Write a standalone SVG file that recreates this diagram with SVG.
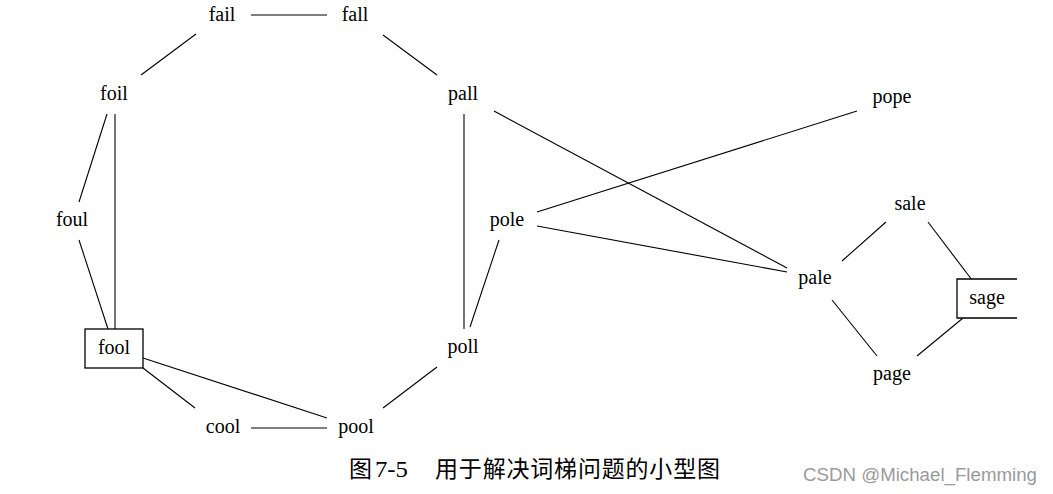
<svg xmlns="http://www.w3.org/2000/svg" width="1053" height="494" viewBox="0 0 1053 494">
<style>
.lbl{font-family:"Liberation Serif","Times New Roman",serif;font-size:20px;fill:#000;text-anchor:middle}
.box{fill:#fff;stroke:#000;stroke-width:1.3}
.edge{stroke:#000;stroke-width:1.1;fill:none}
.cap{font-family:"Liberation Serif","Noto Sans CJK SC",serif;font-size:23px;fill:#000}
.wm{font-family:"Liberation Sans","Noto Sans",sans-serif;font-size:18px;fill:#9a9a9a}
</style>
<rect width="1053" height="494" fill="#fff"/>
<g id="connectors">
<line class="edge" x1="251" y1="15" x2="327" y2="15"/>
<line class="edge" x1="196" y1="34" x2="141" y2="75"/>
<line class="edge" x1="383" y1="35" x2="437" y2="75"/>
<line class="edge" x1="107" y1="114" x2="79" y2="202"/>
<line class="edge" x1="115" y1="114" x2="115" y2="329"/>
<line class="edge" x1="79" y1="240" x2="108" y2="329"/>
<line class="edge" x1="464" y1="114" x2="464" y2="329"/>
<line class="edge" x1="494" y1="111" x2="787" y2="268"/>
<line class="edge" x1="537" y1="212" x2="857" y2="111"/>
<line class="edge" x1="537" y1="226" x2="787" y2="272"/>
<line class="edge" x1="499" y1="240" x2="470" y2="327"/>
<line class="edge" x1="842" y1="261" x2="886" y2="222"/>
<line class="edge" x1="928" y1="222" x2="972" y2="280"/>
<line class="edge" x1="832" y1="300" x2="877" y2="356"/>
<line class="edge" x1="917" y1="356" x2="963" y2="318"/>
<line class="edge" x1="143" y1="368" x2="195" y2="408"/>
<line class="edge" x1="143" y1="358" x2="327" y2="418"/>
<line class="edge" x1="251" y1="428" x2="327" y2="428" stroke="#888"/>
<line class="edge" x1="437" y1="367" x2="383" y2="408"/>
</g>
<g id="fail"><text class="lbl" x="222" y="21">fail</text></g>
<g id="fall"><text class="lbl" x="355" y="21">fall</text></g>
<g id="foil"><text class="lbl" x="114" y="100">foil</text></g>
<g id="pall"><text class="lbl" x="463" y="100">pall</text></g>
<g id="foul"><text class="lbl" x="72" y="226">foul</text></g>
<g id="pole"><text class="lbl" x="507" y="226">pole</text></g>
<g id="pope"><text class="lbl" x="892" y="103">pope</text></g>
<g id="sale"><text class="lbl" x="910" y="210">sale</text></g>
<g id="pale"><text class="lbl" x="815" y="284">pale</text></g>
<g id="sage"><path class="box" d="M1017,279 H957 V318 H1017"/><text class="lbl" x="987" y="304">sage</text></g>
<g id="page"><text class="lbl" x="892" y="380">page</text></g>
<g id="fool"><rect class="box" x="85" y="329" width="58" height="39"/><text class="lbl" x="114" y="354">fool</text></g>
<g id="poll"><text class="lbl" x="463" y="353">poll</text></g>
<g id="cool"><text class="lbl" x="223" y="433">cool</text></g>
<g id="pool"><text class="lbl" x="356" y="433">pool</text></g>
<g id="caption"><text class="cap" y="477"><tspan x="349">图</tspan><tspan x="375" textLength="33" lengthAdjust="spacingAndGlyphs">7-5</tspan><tspan x="435" textLength="285" lengthAdjust="spacing">用于解决词梯问题的小型图</tspan></text></g>
<text class="wm" x="803" y="481" textLength="234" lengthAdjust="spacingAndGlyphs">CSDN @Michael_Flemming</text>
</svg>
